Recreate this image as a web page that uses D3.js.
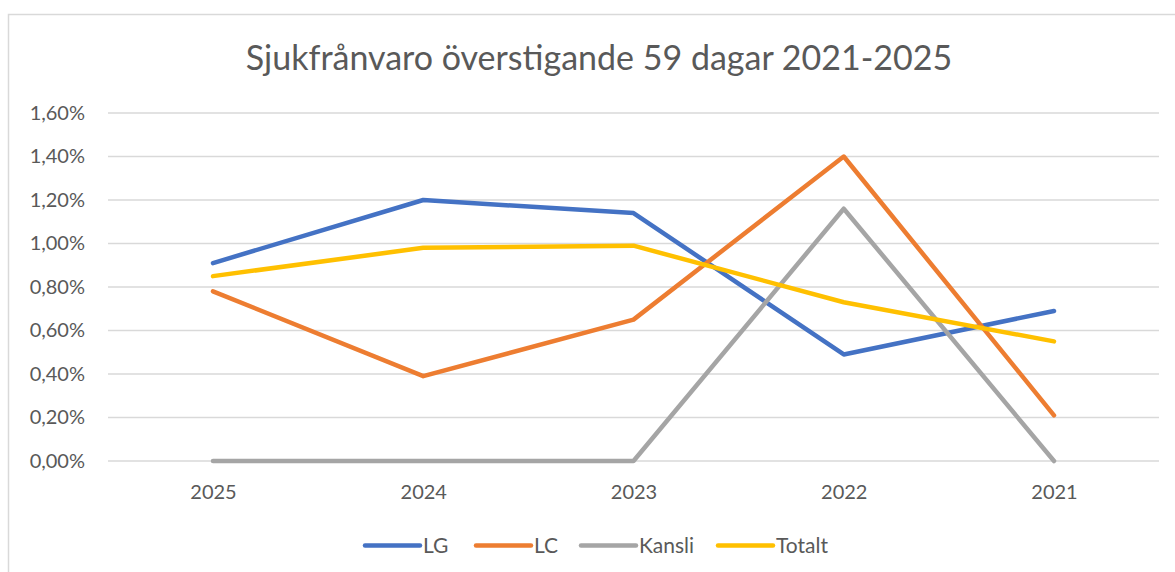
<!DOCTYPE html>
<html><head><meta charset="utf-8">
<script src="https://cdn.jsdelivr.net/npm/d3@7"></script>
<style>body{margin:0;background:#fff}svg{display:block}text{font-family:Lato,"Open Sans",sans-serif;fill:#595959}</style>
</head><body>
<svg id="c" width="1175" height="572"></svg>
<script>
const title = "Sjukfrånvaro överstigande 59 dagar 2021-2025";
const categories = ["2025","2024","2023","2022","2021"];
const LG = [0.91,1.20,1.14,0.49,0.69];
const LC = [0.78,0.39,0.65,1.40,0.21];
const Kansli = [0,0,0,1.16,0];
const Totalt = [0.85,0.98,0.99,0.73,0.55];
const yTicks = [0,0.2,0.4,0.6,0.8,1.0,1.2,1.4,1.6];
const seriesNames = ["LG","LC","Kansli","Totalt"];
const seriesData = [LG,LC,Kansli,Totalt];
const colors = ["#4472C4","#ED7D31","#A5A5A5","#FFC000"];

const svg = d3.select("#c");
// border
svg.append("path").attr("d","M8.5,572 L8.5,14.5 L1175,14.5").attr("fill","none").attr("stroke","#D9D9D9").attr("stroke-width",1.5);

const x = d3.scalePoint().domain(categories).range([213,1054]);
const y = d3.scaleLinear().domain([0,1.6]).range([461,113]);

// gridlines
svg.append("g").selectAll("line").data(yTicks).join("line")
  .attr("x1",108).attr("x2",1159).attr("y1",d=>y(d)).attr("y2",d=>y(d))
  .attr("stroke","#D9D9D9").attr("stroke-width",1.5);

const fmt = d => d.toFixed(2).replace(".",",")+"%";
const yAxis = d3.axisLeft(y).tickValues(yTicks).tickFormat(fmt).tickSize(0).tickPadding(0);
const gy = svg.append("g").attr("transform","translate(85,0)").call(yAxis);
gy.select(".domain").remove();
gy.selectAll("text").style("font-size","20px").attr("fill","#595959");

const xAxis = d3.axisBottom(x).tickSize(0).tickPadding(0);
const gx = svg.append("g").attr("transform","translate(0,485)").call(xAxis);
gx.select(".domain").remove();
gx.selectAll("text").style("font-size","20px").attr("fill","#595959").attr("dy","0.71em");

const line = d3.line().x((d,i)=>x(categories[i])).y(d=>y(d));
seriesData.forEach((s,k)=>{
  svg.append("path").datum(s).attr("d",line).attr("fill","none")
    .attr("stroke",colors[k]).attr("stroke-width",4.5).attr("stroke-linecap","round").attr("stroke-linejoin","round");
});

// title
svg.append("text").attr("x",599).attr("y",70).attr("text-anchor","middle").style("font-size","34px").text(title);

// legend
const legX = [365,476,581,718];
seriesNames.forEach((n,k)=>{
  svg.append("line").attr("x1",legX[k]).attr("x2",legX[k]+55).attr("y1",545.5).attr("y2",545.5)
    .attr("stroke",colors[k]).attr("stroke-width",4.5).attr("stroke-linecap","round");
  svg.append("text").attr("x",legX[k]+58).attr("y",553).style("font-size","21px").text(n);
});
</script>
</body></html>
